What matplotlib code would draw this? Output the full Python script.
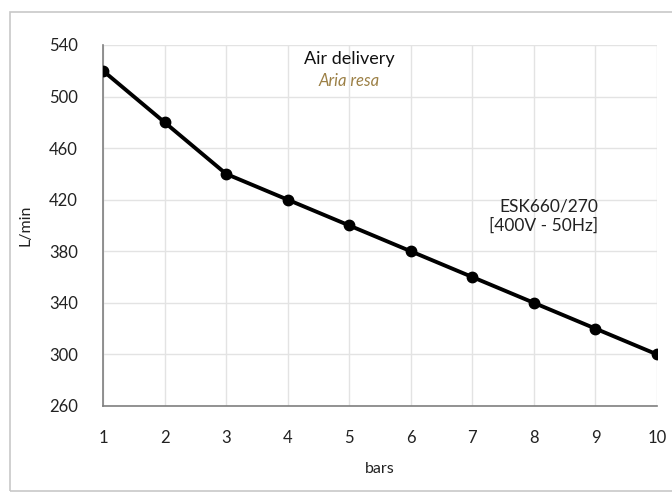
import matplotlib
matplotlib.use("Agg")
import matplotlib.pyplot as plt
from matplotlib.patches import Rectangle

plt.rcParams["font.family"] = ["Lato", "DejaVu Sans"]

BARS = [1, 2, 3, 4, 5, 6, 7, 8, 9, 10]
FLOW = [520, 480, 440, 420, 400, 380, 360, 340, 320, 300]
YTICKS = [260, 300, 340, 380, 420, 460, 500, 540]

fig = plt.figure(figsize=(6.72, 4.93), dpi=100)
# outer chart frame
fig.add_artist(Rectangle((0.0149, 0.004), 1.2, 0.9717, transform=fig.transFigure,
                         fill=False, ec="#c8c8c8", lw=1.2))
ax = fig.add_axes([0.1533, 0.1765, 0.8244, 0.7323])

ax.plot(BARS, FLOW, color="black", lw=2.8, marker="o", ms=7.5, zorder=3)

ax.set_xlim(1, 10)
ax.set_ylim(260, 540)
ax.set_xticks(BARS)
ax.set_yticks(YTICKS)
ax.grid(True, color="#e3e3e3", lw=1)
ax.set_axisbelow(True)
for s in ("top", "right"):
    ax.spines[s].set_visible(False)
for s in ("left", "bottom"):
    ax.spines[s].set_color("#7f7f7f")
    ax.spines[s].set_linewidth(1.2)
ax.tick_params(length=0, labelsize=12, colors="#222222", pad=17)
ax.tick_params(axis="y", pad=18)

ax.set_xlabel("bars", fontsize=11.5, color="#222222", labelpad=12)
ax.set_ylabel("L/min", fontsize=11.5, color="#222222", labelpad=12)

ax.text(0.444, 0.96, "Air delivery", transform=ax.transAxes, ha="center", va="center",
        fontsize=13, color="#111111")
ax.text(0.444, 0.9, "Aria resa", transform=ax.transAxes, ha="center", va="center",
        fontsize=12, style="italic", color="#9c8046")
ax.text(0.894, 0.525, "ESK660/270\n[400V - 50Hz]", transform=ax.transAxes, ha="right",
        va="center", fontsize=12.5, color="#222222", linespacing=1.25)

fig.savefig("out.png", dpi=100)
